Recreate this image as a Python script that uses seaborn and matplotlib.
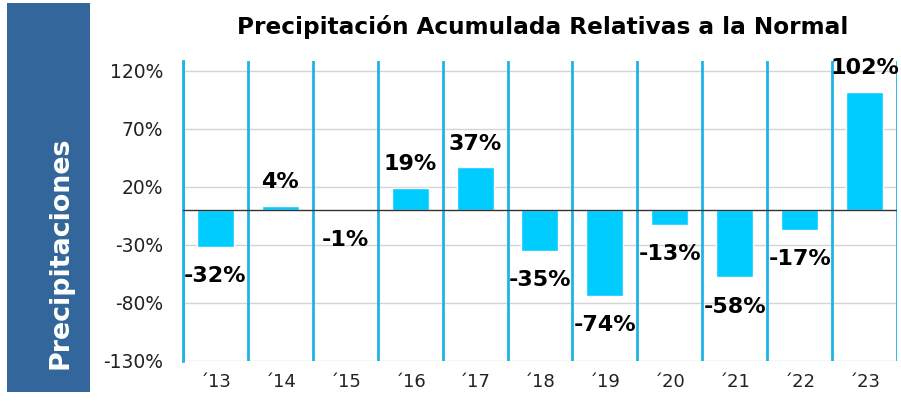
import matplotlib
matplotlib.use("Agg")
import matplotlib.pyplot as plt
import seaborn as sns
import pandas as pd
from matplotlib.patches import Rectangle

years = ["´13", "´14", "´15", "´16", "´17", "´18", "´19", "´20", "´21", "´22", "´23"]
values = [-32, 4, -1, 19, 37, -35, -74, -13, -58, -17, 102]
yticks = [-130, -80, -30, 20, 70, 120]

sns.set_theme(style="white")
plt.rcParams['font.family'] = ['DejaVu Sans']

fig = plt.figure(figsize=(9.01, 4.01), dpi=100)
ax = fig.add_axes([0.203, 0.0998, 0.7926, 0.7482])

df = pd.DataFrame({"year": years, "value": values})
sns.barplot(data=df, x="year", y="value", color="#00CCFF", width=0.57,
            saturation=1, ax=ax, zorder=3)

ax.set_xlim(-0.5, len(years) - 0.5)
ax.set_ylim(-130, 128.6)
ax.set_yticks(yticks)
ax.set_yticklabels([f"{t}%" for t in yticks], fontsize=13.5, color="#222222")
ax.tick_params(axis="y", direction="out", length=4, width=2, color="#1EB4E6", pad=10)
ax.tick_params(axis="x", length=0, pad=9, labelsize=13, labelcolor="#222222")
ax.set_xlabel("")
ax.set_ylabel("")

for t in yticks:
    ax.axhline(t, color="#D4D4D4", lw=1, zorder=1)
for i in range(len(years) + 1):
    ax.axvline(i - 0.5, color="#1EB4E6", lw=2, zorder=2)
ax.axhline(0, color="#333333", lw=1, zorder=4)

for s in ["top", "right", "bottom"]:
    ax.spines[s].set_visible(False)
ax.spines["left"].set_color("#1EB4E6")
ax.spines["left"].set_linewidth(2)

for i, v in enumerate(values):
    if v >= 0:
        ax.annotate(f"{v}%", (i, v), xytext=(0, 17), textcoords="offset points",
                    ha="center", va="center", fontsize=16, fontweight="bold",
                    color="black", zorder=5)
    else:
        ax.annotate(f"{v}%", (i, v), xytext=(0, -21), textcoords="offset points",
                    ha="center", va="center", fontsize=16, fontweight="bold",
                    color="black", zorder=5)

fig.text(0.602, 0.933, "Precipitación Acumulada Relativas a la Normal",
         ha="center", va="center", fontsize=16.7, fontweight="bold", color="black")

fig.patches.append(Rectangle((7 / 901, 1 - 392 / 401), 83 / 901, 389 / 401,
                             transform=fig.transFigure, facecolor="#33669A",
                             edgecolor="none", zorder=0))
fig.text(60 / 901, 1 - 253 / 401, "Precipitaciones", rotation=90,
         ha="center", va="center", fontsize=19.4, fontweight="bold", color="white")

fig.savefig("out.png", dpi=100)
